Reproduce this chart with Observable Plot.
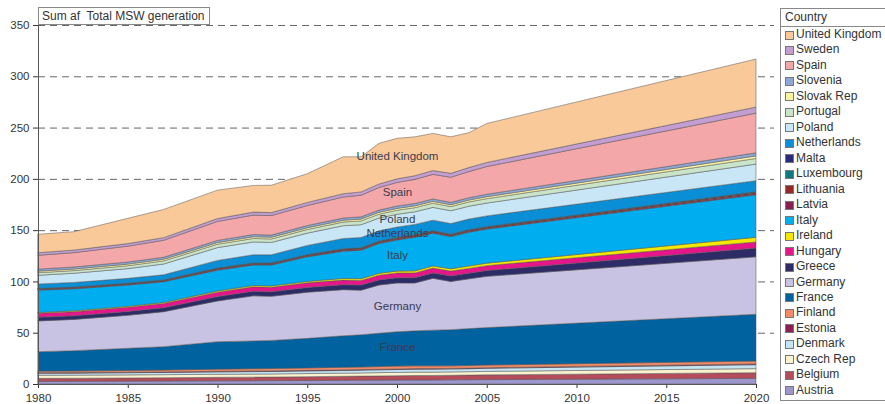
<!DOCTYPE html>
<html><head><meta charset="utf-8">
<script src="https://cdn.jsdelivr.net/npm/d3@7"></script>
<script src="https://cdn.jsdelivr.net/npm/@observablehq/plot@0.6"></script>
<style>
body{margin:0;background:#fff;font-family:"Liberation Sans",Arial,sans-serif;}
#wrap{position:relative;width:885px;height:404px;overflow:hidden;background:#fff;}
#chart{position:absolute;left:0;top:0;}
#title{position:absolute;left:38px;top:7px;height:16px;line-height:16px;padding:0 4px 0 3px;border:1px solid #888;background:#fff;font-size:12px;color:#333;white-space:pre;}
#legend{position:absolute;left:780px;top:8px;width:110px;height:391px;border:1px solid #888;background:#fff;font-size:12px;color:#333;}
#legend .hd{height:17px;line-height:17px;padding-left:4px;border-bottom:1px solid #888;}
#legend .it{height:15.48px;line-height:15.48px;position:relative;padding-left:15px;white-space:nowrap;}
#legend .sw{position:absolute;left:4px;top:3.5px;width:7px;height:7px;border:1px solid #777;}
</style></head><body>
<div id="wrap"><div id="chart"></div><div id="title">Sum af  Total MSW generation</div><div id="legend"></div></div>
<script>
const years = [1980, 1982, 1985, 1987, 1990, 1992, 1993, 1995, 1997, 1998, 1999, 2000, 2001, 2002, 2003, 2004, 2005, 2020];

// bottom to top (legend is top to bottom reversed)
const countries = ["Austria","Belgium","Czech Rep","Denmark","Estonia","Finland","France","Germany","Greece","Hungary","Ireland","Italy","Latvia","Lithuania","Luxembourg","Malta","Netherlands","Poland","Portugal","Slovak Rep","Slovenia","Spain","Sweden","United Kingdom"];
const colors = ["#9c96cc","#b44c5c","#fbf2cf","#c4e4f4","#8c2052","#f28a68","#00629e","#c8c3e2","#2d2c66","#e5168a","#f5e800","#00aeef","#8a2050","#982828","#0c7a80","#2a2a7c","#0a8fd6","#c8e6f6","#c9e4c9","#fcf3a2","#8ea8d6","#f4a7a9","#c49ed2","#f9c999"];

const austria     = [2.5, 2.6, 2.8, 2.9, 3.1, 3.2, 3.3, 3.4, 3.6, 3.7, 3.8, 3.9, 4.0, 4.0, 4.1, 4.2, 4.3, 5.5];
const belgium     = [3.0, 3.0, 3.1, 3.2, 3.4, 3.5, 3.5, 3.7, 3.9, 4.0, 4.1, 4.2, 4.3, 4.3, 4.4, 4.5, 4.6, 5.5];
const czech       = [3.0, 3.0, 3.0, 3.0, 3.0, 3.0, 3.0, 3.1, 3.1, 3.1, 3.2, 3.2, 3.3, 3.3, 3.3, 3.3, 3.4, 4.0];
const denmark     = [2.0, 2.0, 2.1, 2.2, 2.3, 2.4, 2.4, 2.5, 2.6, 2.7, 2.7, 2.8, 2.8, 2.9, 2.8, 2.9, 3.0, 3.8];
const estonia     = [0.5, 0.5, 0.5, 0.5, 0.6, 0.6, 0.6, 0.6, 0.6, 0.6, 0.6, 0.6, 0.6, 0.6, 0.6, 0.6, 0.6, 0.8];
const finland     = [1.5, 1.6, 1.7, 1.8, 2.1, 2.2, 2.3, 2.4, 2.5, 2.5, 2.6, 2.8, 2.7, 2.6, 2.5, 2.6, 2.6, 2.8];
const france      = [19.0, 19.8, 21.6, 22.8, 26.7, 27.1, 27.4, 28.8, 30.7, 31.4, 32.5, 33.5, 34.1, 34.8, 35.3, 35.9, 36.5, 45.6];
const germany     = [30.0, 30.5, 32.2, 34.1, 39.8, 44.0, 43.0, 45.0, 45.0, 43.5, 47.0, 47.5, 46.7, 50.5, 47.0, 48.5, 50.0, 56.0];
const greece      = [3.5, 3.5, 3.7, 3.8, 4.2, 4.4, 4.4, 4.6, 4.8, 4.9, 5.0, 5.1, 5.2, 5.3, 5.4, 5.5, 5.6, 8.5];
const hungary     = [4.0, 4.0, 4.1, 4.2, 4.3, 4.4, 4.4, 4.5, 4.5, 4.5, 4.6, 4.6, 4.6, 4.7, 4.7, 4.7, 4.8, 6.0];
const ireland     = [0.7, 0.8, 0.9, 1.0, 1.2, 1.3, 1.3, 1.4, 1.6, 1.7, 1.8, 1.9, 2.0, 2.1, 2.2, 2.3, 2.4, 4.5];
const italy       = [21.8, 21.5, 20.8, 20.2, 20.3, 19.9, 20.4, 24.0, 26.6, 27.9, 29.1, 30.4, 32.7, 31.9, 31.4, 33.0, 33.2, 41.4];
const latvia      = [0.6, 0.6, 0.6, 0.6, 0.7, 0.7, 0.7, 0.7, 0.7, 0.7, 0.7, 0.7, 0.7, 0.7, 0.7, 0.7, 0.7, 1.0];
const lithuania   = [0.8, 0.8, 0.9, 0.9, 1.0, 1.0, 1.0, 1.0, 1.1, 1.1, 1.1, 1.1, 1.2, 1.2, 1.2, 1.2, 1.2, 1.4];
const luxembourg  = [0.2, 0.2, 0.2, 0.2, 0.2, 0.2, 0.2, 0.3, 0.3, 0.3, 0.3, 0.3, 0.3, 0.3, 0.3, 0.3, 0.3, 0.4];
const malta       = [0.1, 0.1, 0.1, 0.1, 0.1, 0.1, 0.1, 0.1, 0.2, 0.2, 0.2, 0.2, 0.2, 0.2, 0.2, 0.2, 0.2, 0.3];
const netherlands = [4.3, 4.5, 4.7, 5.0, 7.5, 8.0, 8.0, 9.0, 10.0, 10.0, 10.0, 10.2, 10.2, 10.3, 10.3, 10.4, 10.5, 10.7];
const poland      = [8.5, 9.0, 9.5, 10.5, 12.5, 12.5, 12.0, 12.0, 12.5, 12.5, 12.5, 12.5, 12.3, 12.5, 12.5, 12.5, 12.5, 16.2];
const portugal    = [2.5, 2.6, 2.8, 3.0, 3.3, 3.4, 3.4, 3.5, 3.6, 3.7, 3.8, 3.9, 4.0, 4.1, 4.1, 4.2, 4.3, 5.5];
const slovak      = [1.5, 1.5, 1.6, 1.6, 1.6, 1.7, 1.7, 1.7, 1.7, 1.8, 1.8, 1.8, 1.8, 1.8, 1.8, 1.8, 1.9, 2.5];
const slovenia    = [2.0, 2.0, 2.0, 2.0, 2.1, 2.1, 2.1, 2.2, 2.2, 2.2, 2.2, 2.3, 2.3, 2.3, 2.3, 2.3, 2.4, 3.0];
const spain       = [13.5, 14.0, 15.5, 16.5, 18.5, 19.0, 19.0, 19.5, 20.5, 21.0, 22.0, 23.0, 23.5, 24.0, 24.5, 25.5, 27.0, 38.7];
const sweden      = [2.5, 2.5, 2.5, 2.6, 2.8, 2.9, 2.9, 3.0, 3.2, 3.3, 3.4, 3.5, 3.6, 3.7, 3.8, 3.9, 4.0, 5.9];
const uk          = [18.0, 17.9, 24.6, 27.5, 27.7, 26.0, 26.7, 28.0, 36.0, 34.2, 39.6, 39.5, 37.9, 36.2, 35.6, 34.0, 38.0, 46.8];

const series = [austria, belgium, czech, denmark, estonia, finland, france, germany, greece, hungary, ireland, italy, latvia, lithuania, luxembourg, malta, netherlands, poland, portugal, slovak, slovenia, spain, sweden, uk];

const xTicks = [1980, 1985, 1990, 1995, 2000, 2005, 2010, 2015, 2020];
const yTicks = [0, 50, 100, 150, 200, 250, 300, 350];

const labelNames  = ["United Kingdom", "Spain", "Poland", "Netherlands", "Italy", "Germany", "France"];
const labelYears  = [2000, 2000, 2000, 2000, 2000, 2000, 2000];
const labelValues = [222, 187.5, 161.5, 147.5, 126, 76, 36];

const rows = [];
countries.forEach((c, i) => years.forEach((yr, j) => rows.push({country: c, year: yr, value: series[i][j]})));
const labels = labelNames.map((n, i) => ({name: n, year: labelYears[i], value: labelValues[i]}));

const chart = Plot.plot({
  width: 780, height: 404,
  marginLeft: 38, marginRight: 24, marginTop: 25, marginBottom: 20,
  style: {fontFamily: "Liberation Sans, Arial, sans-serif", fontSize: "11.5px", color: "#333", background: "transparent"},
  x: {domain: [1980, 2020], ticks: xTicks, tickFormat: d => String(d), tickSize: 4, label: null},
  y: {domain: [0, 350], ticks: yTicks, tickSize: 5, label: null},
  color: {domain: countries, range: colors},
  marks: [
    Plot.ruleY(yTicks.filter(v => v > 0), {x1: 1980, x2: 2021, stroke: "#666", strokeDasharray: "7,5", strokeWidth: 1}),
    Plot.areaY(rows, Plot.stackY({x: "year", y: "value", z: "country", fill: "country", order: countries, stroke: "#555", strokeWidth: 0.6, strokeOpacity: 0.85})),
    Plot.ruleX([1980], {y1: 0, y2: 360, stroke: "#555"}),
    Plot.ruleY([0], {stroke: "#555"}),
    Plot.text(labels, {x: "year", y: "value", text: "name", fill: "#3b3b4e", fontSize: 11.5})
  ]
});
document.getElementById("chart").appendChild(chart);

const lg = document.getElementById("legend");
const hd = document.createElement("div"); hd.className = "hd"; hd.textContent = "Country"; lg.appendChild(hd);
countries.slice().reverse().forEach(c => {
  const it = document.createElement("div"); it.className = "it";
  const sw = document.createElement("span"); sw.className = "sw"; sw.style.background = colors[countries.indexOf(c)];
  it.appendChild(sw); it.appendChild(document.createTextNode(c)); lg.appendChild(it);
});
</script>
</body></html>
